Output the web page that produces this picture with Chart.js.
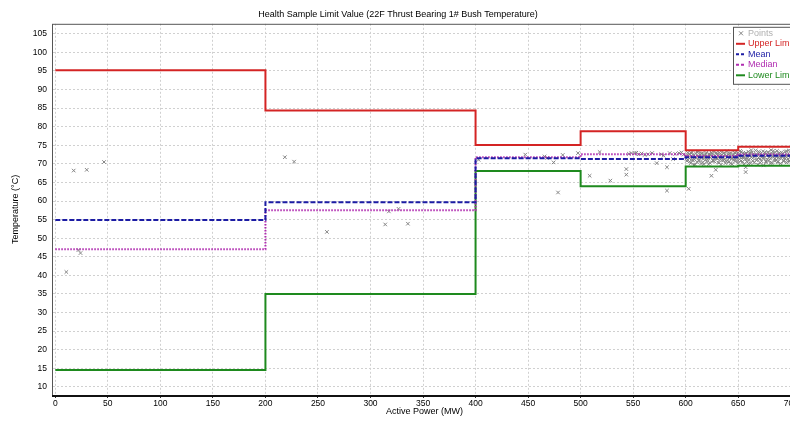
<!DOCTYPE html>
<html>
<head>
<meta charset="utf-8">
<script src="https://cdn.jsdelivr.net/npm/chart.js@4.4.0/dist/chart.umd.min.js"></script>
<style>
  html, body { margin: 0; padding: 0; background: #fff; overflow: hidden; }
  #wrap { width: 806px; height: 421px; }
</style>
</head>
<body>
<div id="wrap"><canvas id="chart" width="806" height="421"></canvas></div>
<script>
// step limits: each value holds from its power up to the next one
var limitPower  = [0, 200, 400, 500, 600, 650, 720];
var upperLimit  = [95.2, 84.4, 75.1, 78.8, 73.7, 74.6, 74.6];
var meanValue   = [54.9, 59.7, 71.5, 71.3, 71.8, 72.2, 72.2];
var medianValue = [47.0, 57.5, 71.8, 72.6, 72.1, 72.5, 72.5];
var lowerLimit  = [14.5, 35.0, 68.1, 64.0, 69.3, 69.5, 69.5];

// sample points (power MW, temperature)
var pointPower = [10.5, 17.5, 22, 24, 29.9, 46.4, 218.5, 227.3, 258.5, 314, 317.5, 326.7, 335.6,
  402.9, 447.3, 465.7, 468, 474.3, 478.5, 483, 497.5, 508.6, 518.1, 528.3, 543.5, 543.5, 546, 548.3,
  551.4, 553, 555.2, 558, 561, 564.2, 568, 572.4, 576.8, 579, 582.2, 582.2, 584.8, 588, 590, 593.7,
  596, 598,
  600.5, 601.2, 602, 602.9, 603.4, 604, 604.8, 605.5, 606.1, 606.9, 607.6, 608.2, 609, 609.7, 610.3,
  611, 611.8, 612.5, 613.1, 613.9, 614.6, 615.2, 616, 616.7, 617.3, 618.1, 618.8, 619.5, 620.2, 620.9,
  621.6, 622.3, 623, 623.8, 624.5, 625.1, 625.9, 626.6, 627.2, 628, 628.6, 629.3, 630, 630.8, 631.5,
  632.1, 632.9, 633.6, 634.2, 635, 635.7, 636.4, 637.1, 637.8, 638.5, 639.2, 640, 640.7, 641.3, 642.1,
  642.8, 643.5, 644.2, 644.9, 645.6, 646.3, 647, 647.7, 648.4, 649.1, 649.8,
  650.5, 651.2, 651.9, 652.6, 653.3, 654, 654.7, 655.4, 656.1, 656.8, 657.1, 657.1, 657.5, 658.2,
  658.9, 659.6, 660.3, 661, 661.7, 662.4, 663.1, 663.8, 664.5, 665.2, 665.9, 666.6, 667.3, 668, 668.7,
  669.4, 670.1, 670.8, 671.5, 672.2, 672.9, 673.6, 674.3, 675, 675.7, 676.4, 677.1, 677.8, 678.5,
  679.2, 679.9, 680.6, 681.3, 682, 682.7, 683.4, 684.1, 684.8, 685.5, 686.2, 686.9, 687.6, 688.3, 689,
  689.7, 690.4, 691.1, 691.8, 692.5, 693.2, 693.9, 694.6, 695.3, 696, 696.7, 697.4, 698.1, 698.8,
  699.5, 700.2, 700.9, 701.6, 702.3, 703, 703.7, 704.4, 705.1,
  600.9, 602.3, 603.7, 605.1, 606.5, 607.9, 609.3, 610.7, 612.1, 613.5, 614.9, 616.3, 617.7, 619.1,
  620.5, 621.9, 623.3, 624.7, 626.1, 627.5, 628.9, 630.3, 631.7, 633.1, 634.5, 635.9, 637.3, 638.7,
  640.1, 641.5, 642.9, 644.3, 645.7, 647.1, 648.5, 649.9, 651.3, 652.7, 654.1, 655.5, 656.9, 658.3,
  659.7, 661.1, 662.5, 663.9, 665.3, 666.7, 668.1, 669.5, 670.9, 672.3, 673.7, 675.1, 676.5, 677.9,
  679.3, 680.7, 682.1, 683.5, 684.9, 686.3, 687.7, 689.1, 690.5, 691.9, 693.3, 694.7, 696.1, 697.5,
  698.9, 700.3, 701.7, 703.1, 704.5];
var pointTemp = [40.9, 68.2, 46.8, 46.0, 68.4, 70.5, 71.8, 70.6, 51.7, 53.7, 57.2, 57.9, 53.9,
  71.1, 72.5, 72.0, 71.6, 70.4, 62.3, 72.4, 72.9, 66.8, 73.2, 65.5, 68.6, 67.1, 72.7, 72.9,
  72.9, 73.0, 72.6, 72.8, 72.4, 72.6, 72.9, 70.2, 72.6, 72.2, 62.8, 69.1, 72.9, 71.3, 72.7, 72.9,
  73.1, 72.5,
  72.1, 70.8, 73.0, 63.3, 71.5, 72.6, 70.2, 71.9, 73.1, 70.9, 72.4, 71.2, 69.8, 72.8, 71.6,
  70.5, 72.2, 73.3, 71.0, 72.5, 70.1, 71.8, 72.9, 71.3, 69.9, 72.3, 71.1, 73.0, 70.6, 72.0,
  71.4, 72.7, 70.3, 71.7, 66.8, 72.5, 71.0, 73.2, 70.7, 72.1, 68.4, 71.5, 72.8, 70.4, 71.9,
  73.0, 71.2, 69.8, 72.4, 71.6, 70.9, 72.9, 71.3, 70.2, 72.2, 73.4, 71.0, 72.6, 70.5, 71.8,
  72.9, 71.4, 69.9, 72.3, 71.1, 73.1, 70.7, 72.0, 71.6, 72.7, 70.3,
  72.4, 71.2, 73.5, 70.8, 72.1, 71.7, 73.0, 69.9, 72.6, 71.3, 69.1, 67.8, 72.9, 70.6,
  71.9, 73.3, 71.1, 72.4, 70.2, 71.8, 73.1, 71.5, 72.7, 70.4, 72.2, 73.6, 71.0, 72.5, 69.8,
  71.7, 73.0, 71.3, 72.8, 70.7, 72.0, 73.4, 69.6, 71.6, 72.9, 70.5, 72.3, 71.2, 73.2,
  70.9, 72.6, 71.4, 73.7, 70.3, 72.1, 71.8, 73.0, 70.8, 72.4, 71.1, 73.5, 70.6, 72.7, 71.5,
  72.2, 70.1, 73.1, 71.9, 72.8, 70.7, 71.6, 73.3, 72.0, 70.4, 72.5, 71.3, 73.6, 70.9,
  72.3, 71.7, 73.0, 70.5, 72.6, 71.2, 73.4, 70.8, 72.1,
  71.4, 72.3, 70.6, 72.9, 71.1, 69.7, 72.0, 73.2, 70.9, 71.7, 72.8, 70.4, 71.9, 72.6,
  71.2, 69.9, 72.4, 73.0, 70.8, 71.6, 72.9, 71.4, 70.3, 72.2, 73.1, 71.0, 72.5, 70.7,
  71.9, 72.8, 70.1, 71.5, 72.6, 71.2, 73.3, 70.9, 72.0, 73.2, 70.6, 71.8, 72.7, 71.4,
  70.1, 72.9, 73.7, 70.8, 71.9, 72.4, 71.1, 73.3, 70.3, 72.2, 71.6, 73.1, 70.8, 72.5,
  71.9, 70.2, 72.8, 73.5, 71.3, 72.0, 70.5, 73.0, 71.7, 72.5, 70.9, 71.4, 73.4, 72.1,
  70.6, 72.7, 71.1, 73.2, 71.8];

var xTicks = [0, 50, 100, 150, 200, 250, 300, 350, 400, 450, 500, 550, 600, 650, 700];
var yTicks = [10, 15, 20, 25, 30, 35, 40, 45, 50, 55, 60, 65, 70, 75, 80, 85, 90, 95, 100, 105];

var FONT = 'Liberation Sans, Arial, sans-serif';

function stepData(vals) {
  return limitPower.map(function (p, i) { return {x: p, y: vals[i]}; });
}
var scatterData = pointPower.map(function (p, i) { return {x: p, y: pointTemp[i]}; });

function lineSet(label, vals, color, dash) {
  return {
    type: 'line', label: label, data: stepData(vals), stepped: true,
    borderColor: color, backgroundColor: color, borderWidth: 2, borderDash: dash,
    pointRadius: 0, fill: false, order: 1
  };
}

// plot frame lines and the legend box in the top right corner
var boxLegend = {
  id: 'boxLegend',
  afterDraw: function (chart) {
    var ctx = chart.ctx, a = chart.chartArea;
    ctx.save();
    ctx.setLineDash([]);
    ctx.strokeStyle = '#555';
    ctx.lineWidth = 1;
    ctx.beginPath();
    ctx.moveTo(a.left, a.top + 0.5);
    ctx.lineTo(a.right, a.top + 0.5);
    ctx.moveTo(a.left - 0.5, a.top);
    ctx.lineTo(a.left - 0.5, a.bottom);
    ctx.stroke();
    ctx.strokeStyle = '#111';
    ctx.lineWidth = 2;
    ctx.beginPath();
    ctx.moveTo(a.left - 1, a.bottom + 1);
    ctx.lineTo(a.right, a.bottom + 1);
    ctx.stroke();

    var bx = a.right - 63, by = a.top + 3, rowH = 10.5;
    ctx.lineWidth = 1;
    ctx.fillStyle = '#fff';
    ctx.fillRect(bx, by, 80, 57);
    ctx.strokeStyle = '#555';
    ctx.strokeRect(bx + 0.5, by + 0.5, 80, 57);
    ctx.font = '9px ' + FONT;
    ctx.textBaseline = 'middle';
    var items = [chart.data.datasets[4]].concat(chart.data.datasets.slice(0, 4));
    items.forEach(function (ds, i) {
      var y = by + 6.5 + i * rowH;
      ctx.strokeStyle = ds.borderColor;
      ctx.lineWidth = ds.type === 'scatter' ? 1 : 2;
      if (ds.type === 'scatter') {
        ctx.beginPath();
        ctx.moveTo(bx + 6, y - 2); ctx.lineTo(bx + 10, y + 2);
        ctx.moveTo(bx + 10, y - 2); ctx.lineTo(bx + 6, y + 2);
        ctx.stroke();
      } else {
        ctx.setLineDash(ds.borderDash.length ? [3, 2] : []);
        ctx.beginPath();
        ctx.moveTo(bx + 3, y); ctx.lineTo(bx + 12, y);
        ctx.stroke();
        ctx.setLineDash([]);
      }
      ctx.fillStyle = ds.legendText || ds.borderColor;
      ctx.fillText(ds.label, bx + 15, y);
    });
    ctx.restore();
  }
};

new Chart(document.getElementById('chart'), {
  data: {
    datasets: [
      lineSet('Upper Limit', upperLimit, '#d42424', []),
      lineSet('Mean', meanValue, '#1c1ca4', [5, 2]),
      lineSet('Median', medianValue, '#b02cb0', [1.5, 1.5]),
      lineSet('Lower Limit', lowerLimit, '#1e8a1e', []),
      {
        type: 'scatter', label: 'Points', data: scatterData,
        pointStyle: 'crossRot', pointRadius: 2.5, pointBorderWidth: 1,
        borderColor: '#858585', backgroundColor: '#858585', legendText: '#b0b0b0', order: 10
      }
    ]
  },
  options: {
    responsive: false,
    animation: false,
    layout: {padding: {left: 0, right: 10, top: 0, bottom: 0}},
    plugins: {
      legend: {display: false},
      tooltip: {enabled: false},
      title: {
        display: true,
        text: 'Health Sample Limit Value (22F Thrust Bearing 1# Bush Temperature)',
        color: '#000', font: {family: FONT, size: 9, weight: 'normal'},
        padding: {top: 9, bottom: 4}
      }
    },
    scales: {
      x: {
        type: 'linear', min: -2.2, max: 705,
        afterBuildTicks: function (s) { s.ticks = xTicks.map(function (v) { return {value: v}; }); },
        afterFit: function (s) { s.height = 26; },
        ticks: {color: '#000', font: {family: FONT, size: 8.5}, padding: 1, maxRotation: 0, autoSkip: false},
        grid: {color: '#d0d0d0', tickLength: 3, tickColor: '#333'},
        border: {display: false, dash: [2, 2]},
        title: {display: true, text: 'Active Power (MW)', color: '#000',
          font: {family: FONT, size: 9}, padding: {top: 0, bottom: 4}}
      },
      y: {
        type: 'linear', min: 7.8, max: 107.7,
        afterBuildTicks: function (s) { s.ticks = yTicks.map(function (v) { return {value: v}; }); },
        afterFit: function (s) { s.width = 53; },
        ticks: {color: '#000', font: {family: FONT, size: 8.5}, padding: 6, autoSkip: false},
        grid: {color: '#d0d0d0', tickLength: 0},
        border: {display: false, dash: [2, 2]},
        title: {display: true, text: 'Temperature (°C)', color: '#000',
          font: {family: FONT, size: 9}, padding: {top: 10, bottom: 0}}
      }
    }
  },
  plugins: [boxLegend]
});
</script>
</body>
</html>
